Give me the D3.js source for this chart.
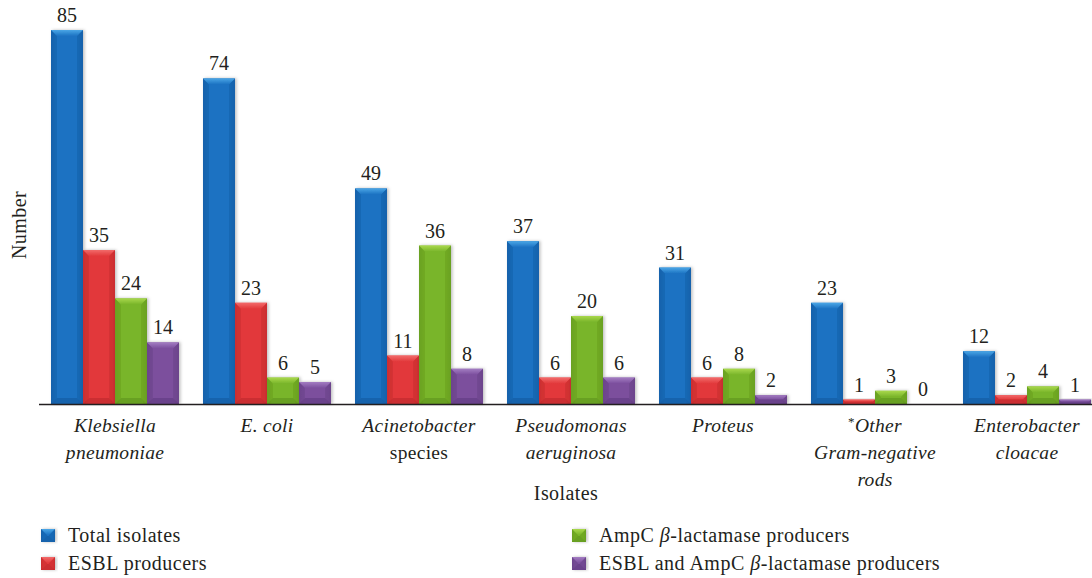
<!DOCTYPE html>
<html><head><meta charset="utf-8">
<script src="https://cdn.jsdelivr.net/npm/d3@7"></script>
<style>
html,body{margin:0;padding:0;background:#fff;}
svg{display:block;font-family:"Liberation Serif","DejaVu Serif",serif;}
</style></head>
<body><svg id="chart" width="1092" height="578"></svg>
<script>
const categories = ["Klebsiella pneumoniae","E. coli","Acinetobacter species","Pseudomonas aeruginosa","Proteus","*Other Gram-negative rods","Enterobacter cloacae"];
const seriesNames = ["Total isolates","ESBL producers","AmpC β-lactamase producers","ESBL and AmpC β-lactamase producers"];
const totalIsolates = [85,74,49,37,31,23,12];
const esblProducers = [35,23,11,6,6,1,2];
const ampcProducers = [24,6,36,20,8,3,4];
const esblAmpcProducers = [14,5,8,6,2,0,1];
const seriesValues = [totalIsolates, esblProducers, ampcProducers, esblAmpcProducers];

// category label lines: [text, italic, superscript]
const categoryLines = [
  [[["Klebsiella",true]],[["pneumoniae",true]]],
  [[["E. coli",true]]],
  [[["Acinetobacter",true]],[["species",false]]],
  [[["Pseudomonas",true]],[["aeruginosa",true]]],
  [[["Proteus",true]]],
  [[["*",false,true],["Other",true]],[["Gram-negative",true]],[["rods",true]]],
  [[["Enterobacter",true]],[["cloacae",true]]]
];

const palette = [
  {main:"#1c72c2", light:"#4aa6e6", dark:"#12589c", edge:"#1662ac"},
  {main:"#e2393b", light:"#f26a6a", dark:"#b82628", edge:"#cc2e30"},
  {main:"#79b52a", light:"#a9d84c", dark:"#5b8e1a", edge:"#6aa222"},
  {main:"#7b4f9d", light:"#a37cc2", dark:"#5e3a7e", edge:"#6c448c"}
];

const svg = d3.select("#chart");
const baseY = 404;
const y = d3.scaleLinear().domain([0,85]).range([baseY, 30]);
const step = 152;
const x0 = d3.scaleBand().domain(d3.range(categories.length)).range([39, 39 + step*categories.length])
  .paddingInner(24/152).paddingOuter(12/152);
const x1 = d3.scaleBand().domain(d3.range(seriesValues.length)).range([0, x0.bandwidth()]).padding(0);

const defs = svg.append("defs");
palette.forEach((p,i)=>{
  const g = defs.append("linearGradient").attr("id","g"+i).attr("x1","0").attr("x2","1").attr("y1","0").attr("y2","0");
  g.append("stop").attr("offset","0").attr("stop-color",p.edge);
  g.append("stop").attr("offset","0.18").attr("stop-color",p.main);
  g.append("stop").attr("offset","0.82").attr("stop-color",p.main);
  g.append("stop").attr("offset","1").attr("stop-color",p.edge);
  const t = defs.append("linearGradient").attr("id","t"+i).attr("x1","0").attr("x2","0").attr("y1","0").attr("y2","1");
  t.append("stop").attr("offset","0").attr("stop-color",p.light);
  t.append("stop").attr("offset","1").attr("stop-color",p.main);
});
const flt = defs.append("filter").attr("id","sh").attr("x","-20%").attr("y","-20%").attr("width","140%").attr("height","140%");
flt.append("feDropShadow").attr("dx",1.5).attr("dy",0).attr("stdDeviation",1.5).attr("flood-color","#000").attr("flood-opacity",0.25);

function drawBar(g, bx, by, w, h, si){
  const p = palette[si];
  if (h <= 0) return;
  const b = Math.min(6, h/2);
  const grp = g.append("g").attr("filter","url(#sh)");
  grp.append("rect").attr("x",bx).attr("y",by).attr("width",w).attr("height",h).attr("fill","url(#g"+si+")");
  grp.append("polygon").attr("points",[[bx,by],[bx+b,by+b],[bx+b,by+h-b],[bx,by+h]].join(" ")).attr("fill",p.edge).attr("opacity",0.6);
  grp.append("polygon").attr("points",[[bx+w,by],[bx+w-b,by+b],[bx+w-b,by+h-b],[bx+w,by+h]].join(" ")).attr("fill",p.edge).attr("opacity",0.6);
  grp.append("polygon").attr("points",[[bx,by],[bx+w,by],[bx+w-b,by+b],[bx+b,by+b]].join(" ")).attr("fill","url(#t"+si+")");
  grp.append("polygon").attr("points",[[bx,by+h],[bx+w,by+h],[bx+w-b,by+h-b],[bx+b,by+h-b]].join(" ")).attr("fill",p.dark).attr("opacity",0.55);
}

const barsG = svg.append("g");
categories.forEach((c,ci)=>{
  seriesValues.forEach((vals,si)=>{
    const v = vals[ci];
    const bx = x0(ci) + x1(si);
    const w = x1.bandwidth();
    const top = y(v);
    drawBar(barsG, bx, top, w, baseY - top, si);
    svg.append("text").attr("x", bx + w/2).attr("y", top - 8)
      .attr("text-anchor","middle").attr("font-size",20).attr("fill","#231f20").text(v);
  });
});

svg.append("line").attr("x1",39).attr("x2",1092).attr("y1",baseY+0.5).attr("y2",baseY+0.5)
  .attr("stroke","#231f20").attr("stroke-width",1.6);

categoryLines.forEach((lines,ci)=>{
  const cx = x0(ci) + x0.bandwidth()/2;
  lines.forEach((parts,li)=>{
    const t = svg.append("text").attr("x",cx).attr("y",432 + li*27)
      .attr("text-anchor","middle").attr("font-size",19.5).attr("letter-spacing",0.3).attr("fill","#231f20");
    parts.forEach(pt=>{
      const ts = t.append("tspan").text(pt[0]).attr("font-style", pt[1] ? "italic" : "normal");
      if (pt[2]) ts.attr("font-size",13).attr("dy",-6);
      else if (parts.length>1 && parts[0][2]) ts.attr("dy",6);
    });
  });
});

svg.append("text").attr("x",566).attr("y",500).attr("text-anchor","middle").attr("font-size",20).attr("letter-spacing",0.4).attr("fill","#231f20").text("Isolates");
svg.append("text").attr("transform","translate(26,225) rotate(-90)").attr("text-anchor","middle").attr("font-size",20).attr("letter-spacing",0.4).attr("fill","#231f20").text("Number");

const legendPos = [[41,529],[41,557],[572,529],[572,557]];
seriesNames.forEach((n,si)=>{
  const [lx,ly] = legendPos[si];
  drawBar(svg, lx, ly, 14, 13, si);
  const t = svg.append("text").attr("x",lx+27).attr("y",ly+13).attr("font-size",20).attr("letter-spacing",0.5).attr("fill","#231f20");
  const parts = n.split("β");
  t.append("tspan").text(parts[0]);
  if (parts.length>1){ t.append("tspan").attr("font-style","italic").text("β"); t.append("tspan").text(parts[1]); }
});
</script></body></html>
